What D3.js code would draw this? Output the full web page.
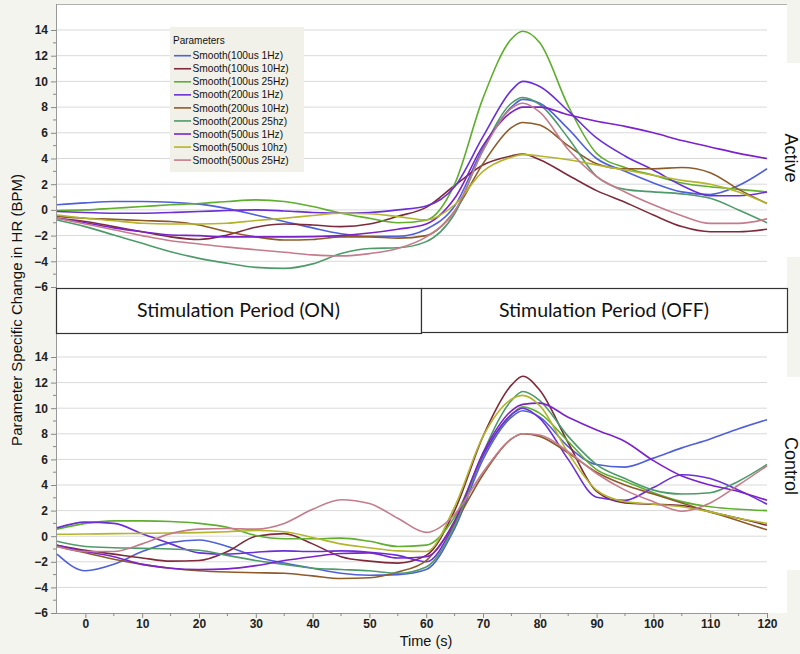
<!DOCTYPE html>
<html><head><meta charset="utf-8">
<script src="https://cdn.jsdelivr.net/npm/d3@7"></script>
<style>body{margin:0;background:#f4f4ee}svg{display:block}</style>
</head><body>
<svg id="c" width="800" height="654"></svg>
<script>
const times = [-5,0,5,10,15,20,25,30,35,40,45,50,55,60,65,70,75,77,80,85,90,95,100,105,110,115,120];
const seriesNames = ["Smooth(100us 1Hz)","Smooth(100us 10Hz)","Smooth(100us 25Hz)","Smooth(200us 1Hz)","Smooth(200us 10Hz)","Smooth(200us 25hz)","Smooth(500us 1Hz)","Smooth(500us 10hz)","Smooth(500us 25Hz)"];
const seriesColors = ["#5060d8","#7d2b3b","#5fae2e","#6b2fd6","#8d5b2a","#4f9a6a","#7c22c8","#b3b52c","#c47c8c"];
const xTicks = [0,10,20,30,40,50,60,70,80,90,100,110,120];
const yTicks = [-6,-4,-2,0,2,4,6,8,10,12,14];
const panelLabels = ["Active","Control"];
const periodLabels = ["Stimulation Period (ON)","Stimulation Period (OFF)"];

// Active panel
const active100us1Hz  = [0.4,0.55,0.65,0.65,0.6,0.45,0.1,-0.4,-0.9,-1.4,-1.85,-2.05,-2.05,-1.5,0.3,4.8,8.0,8.6,8.3,6.3,4.0,3.0,2.1,1.4,1.2,1.9,3.2];
const active100us10Hz = [-0.65,-0.9,-1.3,-1.7,-2.1,-2.3,-1.95,-1.35,-1.1,-1.17,-1.3,-1.1,-0.5,0.2,1.9,3.5,4.2,4.35,3.9,2.7,1.5,0.6,-0.4,-1.3,-1.7,-1.7,-1.5];
const active100us25Hz = [-0.05,0.0,0.13,0.26,0.4,0.5,0.65,0.78,0.65,0.26,-0.26,-0.65,-1.0,-0.8,2.0,8.7,13.3,13.9,13.0,8.1,4.4,3.3,2.7,2.1,1.8,1.6,1.4];
const active200us1Hz  = [-0.13,-0.2,-0.26,-0.26,-0.2,-0.13,-0.05,0,-0.08,-0.2,-0.26,-0.2,0,0.3,1.8,5.7,9.3,10.0,9.6,7.7,5.6,4.2,3.1,1.9,1.1,1.1,1.4];
const active200us10Hz = [-0.5,-0.65,-0.73,-0.83,-0.9,-1.17,-1.7,-2.1,-2.34,-2.3,-2.1,-2.1,-2.2,-2.0,-0.1,3.6,6.4,6.8,6.6,5.0,3.6,3.2,3.2,3.3,2.9,1.6,0.5];
const active200us25Hz = [-0.78,-1.3,-1.95,-2.6,-3.25,-3.77,-4.15,-4.47,-4.55,-4.2,-3.4,-3.0,-2.95,-2.47,-0.3,4.7,8.3,8.75,8.2,5.6,2.6,1.6,1.4,1.25,0.9,0.0,-1.0];
const active500us1Hz  = [-0.65,-1.0,-1.4,-1.7,-1.95,-2.0,-2.1,-2.1,-2.1,-2.08,-2.0,-1.8,-1.5,-1.1,0.9,5.0,7.6,8.0,8.0,7.4,6.9,6.5,6.0,5.4,4.9,4.4,4.0];
const active500us10Hz = [-0.4,-0.65,-0.85,-1.04,-1.1,-1.1,-1.04,-0.83,-0.65,-0.44,-0.26,-0.3,-0.52,-0.78,0.4,3.0,4.1,4.3,4.2,3.9,3.5,3.1,2.7,2.3,2.0,1.4,0.5];
const active500us25Hz = [-0.65,-1.1,-1.55,-2.0,-2.4,-2.65,-2.9,-3.1,-3.3,-3.5,-3.58,-3.4,-3.0,-2.1,-0.1,4.6,7.9,8.3,7.6,4.7,2.6,1.4,0.4,-0.45,-1.05,-1.05,-0.7];

// Control panel
const control100us1Hz  = [-1.4,-2.7,-2.2,-1.2,-0.5,-0.3,-0.8,-1.6,-2.1,-2.5,-2.9,-3.05,-3.0,-2.6,0.6,6.0,9.3,9.8,9.3,7.0,5.6,5.4,6.1,6.9,7.6,8.4,9.1];
const control100us10Hz = [-0.7,-1.1,-1.4,-1.7,-1.95,-1.9,-1.2,0.0,0.2,-0.6,-1.6,-1.95,-2.1,-1.5,2.0,7.8,11.8,12.5,11.4,7.3,3.5,2.6,2.5,2.4,1.9,1.4,0.85];
const control100us25Hz = [0.55,1.0,1.2,1.2,1.15,1.0,0.7,0.05,-0.2,-0.2,-0.15,-0.4,-0.8,-0.7,1.5,6.3,9.5,10.1,9.6,7.4,5.2,4.3,3.4,2.7,2.3,2.1,2.0];
const control200us1Hz  = [0.65,1.1,1.0,0.2,-0.6,-1.3,-1.4,-1.25,-1.15,-1.2,-1.15,-1.25,-1.5,-2.0,1.0,6.3,9.5,10.0,9.2,6.0,3.05,2.8,3.8,4.8,4.5,3.6,2.5];
const control200us10Hz = [-0.8,-1.3,-1.8,-2.2,-2.5,-2.7,-2.8,-2.85,-2.9,-3.1,-3.3,-3.25,-2.8,-1.9,1.0,4.8,7.6,8.0,7.8,6.5,5.0,4.0,3.3,2.6,1.9,1.2,0.5];
const control200us25Hz = [-0.4,-0.8,-0.9,-0.95,-1.0,-1.1,-1.5,-1.9,-2.2,-2.5,-2.6,-2.7,-2.9,-2.4,0.8,6.5,10.6,11.3,10.6,7.8,5.6,4.5,3.6,3.3,3.4,4.3,5.6];
const control500us1Hz  = [-0.7,-1.2,-1.6,-2.2,-2.5,-2.6,-2.55,-2.3,-1.9,-1.6,-1.35,-1.3,-1.7,-1.6,1.2,6.5,9.8,10.3,10.4,9.3,8.3,7.4,5.9,4.7,4.0,3.5,2.8];
const control500us10Hz = [0.15,0.17,0.2,0.22,0.25,0.28,0.35,0.45,0.35,-0.1,-0.6,-0.9,-1.15,-1.2,2.3,7.8,10.7,11.0,10.2,6.5,3.6,2.7,2.5,2.3,1.9,1.4,1.0];
const control500us25Hz = [-0.8,-1.2,-1.2,-0.6,0.2,0.55,0.6,0.55,1.0,2.1,2.85,2.55,1.4,0.3,1.7,5.0,7.6,8.0,7.9,6.6,4.9,3.6,2.7,1.95,2.6,4.0,5.5];

const activeSeries = [active100us1Hz,active100us10Hz,active100us25Hz,active200us1Hz,active200us10Hz,active200us25Hz,active500us1Hz,active500us10Hz,active500us25Hz];
const controlSeries = [control100us1Hz,control100us10Hz,control100us25Hz,control200us1Hz,control200us10Hz,control200us25Hz,control500us1Hz,control500us10Hz,control500us25Hz];

const svg = d3.select("#c");
const FONT = "'Liberation Sans', Arial, sans-serif";
svg.append("rect").attr("width",800).attr("height",654).attr("fill","#f4f4ee");

const x = d3.scaleLinear().domain([-5,120]).range([57,767]);
const panels = [
  {y: d3.scaleLinear().domain([-6,14]).range([287,30]), top:4, bottom:288, data:activeSeries, label:panelLabels[0], lw:[63,257]},
  {y: d3.scaleLinear().domain([-6,14]).range([613,357]), top:333, bottom:613, data:controlSeries, label:panelLabels[1], lw:[377,570]}
];

panels.forEach((p,pi)=>{
  const g = svg.append("g");
  g.append("rect").attr("x",56).attr("y",p.top).attr("width",731).attr("height",p.bottom-p.top).attr("fill","#ffffff");
  g.append("rect").attr("x",787).attr("y",p.lw[0]).attr("width",13).attr("height",p.lw[1]-p.lw[0]).attr("fill","#ffffff");
  g.selectAll("line.grid").data(yTicks.filter(v=>v>-6)).enter().append("line")
    .attr("x1",57).attr("x2",767).attr("y1",d=>p.y(d)).attr("y2",d=>p.y(d))
    .attr("stroke","#d9d9d9").attr("stroke-width",1);
  if(pi===0) g.append("line").attr("x1",56).attr("x2",787).attr("y1",p.top+0.5).attr("y2",p.top+0.5).attr("stroke","#b0b0b0");
  const ax = d3.axisLeft(p.y).tickValues(yTicks).tickSize(5).tickPadding(3).tickFormat(d3.format("d"));
  const ag = g.append("g").attr("transform","translate(56,0)").call(ax);
  ag.select(".domain").remove();
  ag.selectAll("line").attr("stroke","#888");
  ag.selectAll("text").attr("font-family",FONT).attr("font-size",12).attr("font-weight","bold").attr("fill","#222");
  const minor = d3.range(-6,15,1).filter(v=>v%2!==0);
  g.selectAll("line.minor").data(minor).enter().append("line")
    .attr("x1",53).attr("x2",56).attr("y1",d=>p.y(d)).attr("y2",d=>p.y(d)).attr("stroke","#888");
  g.append("line").attr("x1",56.5).attr("x2",56.5).attr("y1",p.top).attr("y2",p.bottom).attr("stroke","#999");
  const line = d3.line().x((d,i)=>x(times[i])).y(d=>p.y(d)).curve(d3.curveMonotoneX);
  g.selectAll("path.s").data(p.data).enter().append("path")
    .attr("d",line).attr("fill","none").attr("stroke",(d,i)=>seriesColors[i]).attr("stroke-width",1.6);
  const cy = pi===0 ? 158 : 466;
  g.append("text").attr("transform",`translate(785,${cy}) rotate(90)`).attr("text-anchor","middle")
    .attr("font-family",FONT).attr("font-size",18).attr("fill","#111").text(p.label);
});

const xa = d3.axisBottom(x).tickValues(xTicks).tickSize(5).tickPadding(1);
const xg = svg.append("g").attr("transform","translate(0,613)").call(xa);
xg.select(".domain").remove();
xg.selectAll("line").attr("stroke","#888");
xg.selectAll("text").attr("font-family",FONT).attr("font-size",12).attr("font-weight","bold").attr("fill","#222");
svg.append("line").attr("x1",56).attr("x2",767).attr("y1",613.5).attr("y2",613.5).attr("stroke","#999");
svg.selectAll("line.xminor").data(d3.range(5,120,10)).enter().append("line")
  .attr("x1",d=>x(d)).attr("x2",d=>x(d)).attr("y1",613).attr("y2",616).attr("stroke","#888");

const boxes = [{x0:56,x1:421,y0:288,y1:333},{x0:421,x1:787,y0:288,y1:332}];
boxes.forEach((b,i)=>{
  svg.append("rect").attr("x",b.x0+0.5).attr("y",b.y0+0.5).attr("width",b.x1-b.x0).attr("height",b.y1-b.y0)
    .attr("fill","#ffffff").attr("stroke","#333").attr("stroke-width",1.2);
  svg.append("text").attr("x",(b.x0+b.x1)/2).attr("y",(b.y0+b.y1)/2+6.5).attr("text-anchor","middle")
    .attr("font-family","Lato, 'Open Sans', sans-serif").attr("font-size",19.5).attr("fill","#111").text(periodLabels[i]);
});

svg.append("text").attr("transform","translate(22,310) rotate(-90)").attr("text-anchor","middle")
  .attr("font-family",FONT).attr("font-size",15).attr("fill","#111").text("Parameter Specific Change in HR (BPM)");
svg.append("text").attr("x",426).attr("y",646).attr("text-anchor","middle")
  .attr("font-family",FONT).attr("font-size",14.5).attr("fill","#111").text("Time (s)");

const lg = svg.append("g");
lg.append("rect").attr("x",170).attr("y",27).attr("width",134).attr("height",145).attr("fill","#f1f1ea");
lg.append("text").attr("x",173).attr("y",44).attr("font-family",FONT).attr("font-size",10).attr("fill","#111").text("Parameters");
seriesNames.forEach((n,i)=>{
  const yy = 55.7 + i*13.05;
  lg.append("line").attr("x1",174).attr("x2",191).attr("y1",yy).attr("y2",yy).attr("stroke",seriesColors[i]).attr("stroke-width",1.6);
  lg.append("text").attr("x",192.5).attr("y",yy+3.6).attr("font-family",FONT).attr("font-size",10.2).attr("fill","#111").text(n);
});
</script>
</body></html>
